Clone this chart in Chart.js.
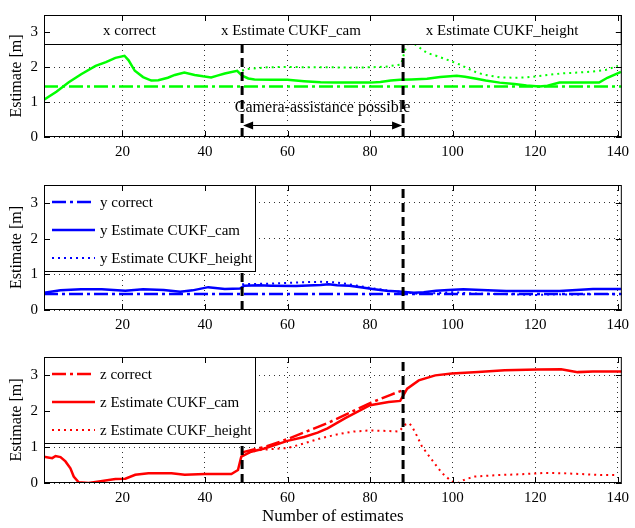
<!DOCTYPE html>
<html>
<head>
    <title>Estimates x y z</title>
    <script src="https://cdn.jsdelivr.net/npm/chart.js"></script>
    <style>
        body { margin: 0; background: #fff; }
        #wrap { position: relative; width: 635px; height: 528px; }
        canvas { position: absolute; left: 0; }
    </style>
</head>
<body>
<div id="wrap">
    <canvas id="cx" width="635" height="165" style="top:0px"></canvas>
    <canvas id="cy" width="635" height="165" style="top:170px"></canvas>
    <canvas id="cz" width="635" height="188" style="top:340px"></canvas>
</div>
<script>
// ---- data ----
const xTicks = [20, 40, 60, 80, 100, 120, 140];
const yTicks = [0, 1, 2, 3];
const xLim = [1, 141];
const yLim = [0, 3.5];
const switchPoints = [49, 88];   // camera assistance start / end

// x
const xCorrectN = [1, 141];
const xCorrectV = [1.45, 1.45];
const xCamN = [1, 4, 7, 10, 13.5, 16, 18.3, 20.5, 21.5, 23, 25, 27, 28.7, 31, 32.7, 35, 37.5, 39.5, 41.5, 43, 44.8, 47.8, 49, 50.5, 52, 56, 60, 64, 68, 72, 76, 80, 82.5, 85, 87.3, 90, 93.8, 97, 101, 103, 105.8, 108, 111.4, 115, 117.9, 121, 123, 125.9, 130, 135.5, 137.5, 140.8];
const xCamV = [1.07, 1.3, 1.57, 1.8, 2.04, 2.15, 2.27, 2.33, 2.2, 1.9, 1.72, 1.62, 1.63, 1.7, 1.78, 1.85, 1.78, 1.74, 1.71, 1.76, 1.82, 1.9, 1.76, 1.68, 1.65, 1.64, 1.64, 1.6, 1.57, 1.56, 1.56, 1.56, 1.58, 1.62, 1.64, 1.65, 1.67, 1.72, 1.76, 1.73, 1.67, 1.62, 1.56, 1.52, 1.48, 1.45, 1.47, 1.56, 1.56, 1.56, 1.7, 1.87];
const xHeightN = [49, 50, 55, 60, 65, 70, 75, 80, 84, 87.5, 88.5, 89.5, 91, 93.8, 96, 98.6, 101.7, 104, 105.8, 108, 111.4, 115, 118, 121, 124.4, 127, 130.7, 134, 137, 140];
const xHeightV = [1.9, 1.95, 2.0, 2.01, 2.0, 2.0, 1.99, 2.0, 2.02, 2.08, 2.5, 2.78, 2.65, 2.41, 2.33, 2.22, 2.08, 1.95, 1.85, 1.78, 1.71, 1.7, 1.71, 1.75, 1.8, 1.83, 1.85, 1.88, 1.92, 2.04];

// y
const yCorrectN = [1, 141];
const yCorrectV = [0.45, 0.45];
const yCamN = [1, 5, 10, 15, 20.7, 25, 30, 34, 37, 40.8, 44.8, 48.5, 49.5, 53, 56, 62, 68, 70, 72, 75, 77.7, 81, 84, 87, 90.6, 93, 96, 99, 102.6, 107, 113, 120, 125.9, 130, 134, 140.8];
const yCamV = [0.48, 0.55, 0.58, 0.58, 0.54, 0.58, 0.56, 0.51, 0.55, 0.64, 0.59, 0.6, 0.68, 0.69, 0.68, 0.67, 0.7, 0.72, 0.69, 0.68, 0.64, 0.58, 0.54, 0.52, 0.48, 0.5, 0.54, 0.56, 0.58, 0.56, 0.53, 0.53, 0.53, 0.56, 0.59, 0.59];
const yHeightN = [49, 52, 56, 60, 64, 68, 72, 76, 80, 84, 88, 92, 96, 100, 105, 110, 115, 120, 125, 130, 135, 140];
const yHeightV = [0.72, 0.73, 0.74, 0.76, 0.78, 0.79, 0.77, 0.7, 0.62, 0.55, 0.5, 0.45, 0.47, 0.5, 0.46, 0.45, 0.44, 0.42, 0.44, 0.43, 0.45, 0.44];

// z
const zCorrectN = [49, 55, 60, 65, 70, 75, 80, 85, 88];
const zCorrectV = [0.85, 1.02, 1.22, 1.45, 1.68, 1.95, 2.22, 2.45, 2.58];
const zCamN = [1, 2, 3, 3.8, 5, 6.2, 7.4, 8.2, 9.4, 11.8, 14.3, 18.3, 20.7, 23.1, 26.3, 31.9, 35.1, 40, 46.4, 48, 48.8, 51.2, 54.4, 60, 64, 67.3, 69.7, 74, 80, 84.5, 87.3, 89, 91.8, 95.8, 99.8, 106.2, 112.6, 120.6, 126.3, 130.3, 134, 139.9, 141];
const zCamV = [0.73, 0.71, 0.69, 0.75, 0.72, 0.6, 0.41, 0.18, 0.02, 0.0, 0.04, 0.11, 0.12, 0.23, 0.27, 0.27, 0.23, 0.25, 0.25, 0.36, 0.73, 0.87, 0.96, 1.17, 1.28, 1.4, 1.52, 1.8, 2.16, 2.25, 2.28, 2.62, 2.85, 2.99, 3.04, 3.08, 3.13, 3.15, 3.16, 3.08, 3.1, 3.1, 3.1];
const zHeightN = [49, 51, 53.6, 57, 60, 64, 68, 72, 76, 80, 83.3, 87, 88.5, 89.5, 90.2, 91.4, 92.6, 95, 97.4, 99.8, 101.4, 103, 105.4, 108, 111, 116, 122.3, 127, 131, 136, 140];
const zHeightV = [0.8, 0.86, 0.92, 0.95, 0.97, 1.1, 1.24, 1.35, 1.43, 1.46, 1.45, 1.43, 1.62, 1.66, 1.56, 1.3, 1.01, 0.64, 0.28, 0.04, 0.0, 0.1, 0.18, 0.2, 0.22, 0.24, 0.28, 0.27, 0.25, 0.22, 0.22];

const annotationText = 'Camera-assistance possible';

// ---- styles ----
const FONT = "'Liberation Serif', 'Times New Roman', serif";
const GREEN = '#00ff00', BLUE = '#0000ff', RED = '#ff0000';
const DASHDOT = [14, 4, 3, 4];
const DOTTED = [2, 4];

function pts(n, v) {
    return n.map(function (x, i) { return {x: x, y: v[i]}; });
}

function seriesSet(letter, color, cN, cV, camN, camV, hN, hV) {
    const sets = [
        {label: letter + ' correct', data: pts(cN, cV), borderColor: color, borderWidth: 2.5, borderDash: DASHDOT},
        {label: letter + ' Estimate CUKF_cam', data: pts(camN, camV), borderColor: color, borderWidth: 2.5, borderDash: []},
        {label: letter + ' Estimate CUKF_height', data: pts(hN, hV), borderColor: color, borderWidth: 2, borderDash: DOTTED}
    ];
    const order = [2, 1, 0];
    sets.forEach(function (s, i) { s.order = order[i]; });
    switchPoints.forEach(function (p) {
        sets.push({label: '', isMarker: true, data: [{x: p, y: yLim[0]}, {x: p, y: yLim[1]}],
            borderColor: '#000', borderWidth: 3, borderDash: [9, 5], order: -1});
    });
    return sets;
}

const framePlugin = {
    id: 'frame',
    afterDatasetsDraw(chart, args, opts) {
        const ctx = chart.ctx;
        const a = chart.chartArea;
        const sx = chart.scales.x, sy = chart.scales.y;
        ctx.save();

        // annotation with arrow (top panel)
        if (opts.annotate) {
            const x1 = sx.getPixelForValue(switchPoints[0]);
            const x2 = sx.getPixelForValue(switchPoints[1]);
            const ya = sy.getPixelForValue(0.33);
            const yt = sy.getPixelForValue(0.83);
            ctx.fillStyle = '#000';
            ctx.strokeStyle = '#000';
            ctx.font = '16px ' + FONT;
            ctx.textAlign = 'center';
            ctx.textBaseline = 'middle';
            ctx.fillText(annotationText, (x1 + x2) / 2, yt);
            ctx.lineWidth = 1;
            ctx.beginPath();
            ctx.moveTo(x1 + 8, ya);
            ctx.lineTo(x2 - 8, ya);
            ctx.stroke();
            ctx.beginPath();
            ctx.moveTo(x1 + 1, ya); ctx.lineTo(x1 + 11, ya - 4); ctx.lineTo(x1 + 11, ya + 4); ctx.closePath();
            ctx.moveTo(x2 - 1, ya); ctx.lineTo(x2 - 11, ya - 4); ctx.lineTo(x2 - 11, ya + 4); ctx.closePath();
            ctx.fill();
        }

        // legend
        const items = chart.data.datasets.filter(function (d) { return !d.isMarker; })
            .sort(function (p, q) { return q.order - p.order; });
        ctx.font = '15px ' + FONT;
        ctx.textAlign = 'left';
        ctx.textBaseline = 'middle';
        if (opts.legend === 'row') {
            const h = 29;
            ctx.fillStyle = '#fff';
            ctx.fillRect(a.left, a.top, a.right - a.left, h);
            ctx.strokeStyle = '#000';
            ctx.lineWidth = 1;
            ctx.strokeRect(a.left + 0.5, a.top + 0.5, a.right - a.left - 1, h);
            let x = a.left + 59;
            items.forEach(function (d) {
                ctx.fillStyle = '#000';
                ctx.fillText(d.label, x, a.top + 16);
                x += ctx.measureText(d.label).width + 65;
            });
        } else if (opts.legend === 'column') {
            const w = 212, h = 86;
            ctx.fillStyle = '#fff';
            ctx.fillRect(a.left, a.top, w, h);
            ctx.strokeStyle = '#000';
            ctx.lineWidth = 1;
            ctx.strokeRect(a.left + 0.5, a.top + 0.5, w - 1, h);
            items.forEach(function (d, i) {
                const yy = a.top + 17 + i * 28;
                ctx.strokeStyle = d.borderColor;
                ctx.lineWidth = d.borderWidth;
                ctx.setLineDash(d.borderDash);
                ctx.beginPath();
                ctx.moveTo(a.left + 8, yy);
                ctx.lineTo(a.left + 51, yy);
                ctx.stroke();
                ctx.setLineDash([]);
                ctx.fillStyle = '#000';
                ctx.fillText(d.label, a.left + 56, yy + 1);
            });
        }

        // axes box with inward ticks
        ctx.setLineDash([]);
        ctx.strokeStyle = '#000';
        ctx.lineWidth = 1;
        ctx.strokeRect(a.left + 0.5, a.top + 0.5, a.right - a.left - 1, a.bottom - a.top - 1);
        ctx.beginPath();
        xTicks.forEach(function (t) {
            const px = Math.round(sx.getPixelForValue(t)) + 0.5;
            ctx.moveTo(px, a.bottom); ctx.lineTo(px, a.bottom - 6);
            ctx.moveTo(px, a.top); ctx.lineTo(px, a.top + 6);
        });
        yTicks.forEach(function (t) {
            const py = Math.round(sy.getPixelForValue(t)) + 0.5;
            ctx.moveTo(a.left, py); ctx.lineTo(a.left + 6, py);
            ctx.moveTo(a.right, py); ctx.lineTo(a.right - 6, py);
        });
        ctx.stroke();
        ctx.restore();
    }
};

function makeChart(id, datasets, cfg) {
    const ctx = document.getElementById(id).getContext('2d');
    const gridOpts = {color: 'rgba(0,0,0,0.8)', lineWidth: 1, drawTicks: false};
    return new Chart(ctx, {
        type: 'line',
        data: {datasets: datasets},
        plugins: [framePlugin],
        options: {
            responsive: false,
            animation: false,
            layout: {padding: {top: cfg.padTop, right: 8, left: 0, bottom: 0}},
            elements: {point: {radius: 0}, line: {tension: 0, fill: false}},
            plugins: {
                legend: {display: false},
                tooltip: {enabled: false},
                frame: {legend: cfg.legend, annotate: !!cfg.annotate}
            },
            scales: {
                x: {
                    type: 'linear',
                    min: xLim[0],
                    max: xLim[1],
                    afterBuildTicks: function (s) { s.ticks = xTicks.map(function (v) { return {value: v}; }); },
                    afterFit: function (s) { s.height = cfg.xHeight; },
                    border: {display: false, dash: [1, 4]},
                    grid: gridOpts,
                    ticks: {color: '#000', padding: 6, maxRotation: 0, font: {family: FONT, size: 15}},
                    title: cfg.xTitle ? {display: true, text: cfg.xTitle, color: '#000',
                        font: {family: FONT, size: 17, lineHeight: 1.2}, padding: {top: 0, bottom: 1}} : {display: false}
                },
                y: {
                    type: 'linear',
                    min: yLim[0],
                    max: yLim[1],
                    afterBuildTicks: function (s) { s.ticks = yTicks.map(function (v) { return {value: v}; }); },
                    afterFit: function (s) { s.width = 44; },
                    border: {display: false, dash: [1, 4]},
                    grid: gridOpts,
                    ticks: {color: '#000', padding: 6, font: {family: FONT, size: 15}},
                    title: {display: true, text: 'Estimate [m]', color: '#000',
                        font: {family: FONT, size: 16, lineHeight: 1.2}, padding: {top: 7, bottom: 0}}
                }
            }
        }
    });
}

makeChart('cx', seriesSet('x', GREEN, xCorrectN, xCorrectV, xCamN, xCamV, xHeightN, xHeightV),
    {padTop: 12, xHeight: 28, legend: 'row', annotate: true});
makeChart('cy', seriesSet('y', BLUE, yCorrectN, yCorrectV, yCamN, yCamV, yHeightN, yHeightV),
    {padTop: 15, xHeight: 25, legend: 'column'});
makeChart('cz', seriesSet('z', RED, zCorrectN, zCorrectV, zCamN, zCamV, zHeightN, zHeightV),
    {padTop: 17, xHeight: 45, legend: 'column', xTitle: 'Number of estimates'});
</script>
</body>
</html>
